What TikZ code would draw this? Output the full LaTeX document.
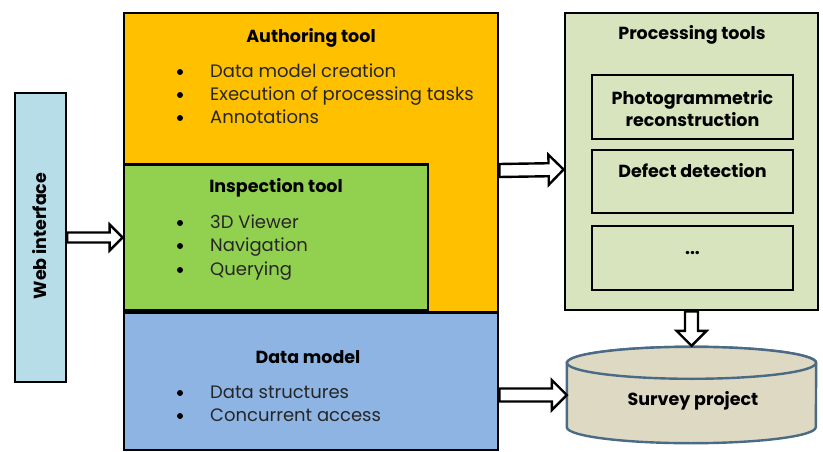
\documentclass[tikz,border=0pt]{standalone}
\usepackage{fontspec}
\setmainfont{Poppins}
\usetikzlibrary{calc}

\definecolor{authfill}{HTML}{FFC000}
\definecolor{inspfill}{HTML}{92D050}
\definecolor{datafill}{HTML}{8EB4E3}
\definecolor{webfill}{HTML}{B7DEE8}
\definecolor{procfill}{HTML}{D7E4BD}
\definecolor{cylfill}{HTML}{DDD9C3}
\definecolor{cylline}{HTML}{4A6A85}

% arrow geometry: half shaft width, half head width, head length
\def\aw{6pt}\def\ah{15pt}\def\al{15pt}

\tikzset{
  box/.style={draw=black, line width=2.8pt, inner sep=0pt, line join=miter},
  title/.style={font=\fontsize{17.5}{22}\selectfont\bfseries, inner sep=0pt, anchor=center},
  item/.style={font=\fontsize{18}{22}\selectfont, inner sep=0pt, anchor=base west, text=black!85},
  bullet/.style={circle, fill=black, inner sep=0pt, minimum size=6pt},
  hollowarrow/.style={draw=black, line width=2.4pt, fill=white, line join=miter,
    to path={let \p1=(\tikztostart), \p2=(\tikztotarget), \p3=($(\p2)!\al!(\p1)$) in
      ($(\p1)!\aw!90:(\p2)$) -- ($(\p3)!\aw!90:(\p2)$) -- ($(\p3)!\ah!90:(\p2)$)
      -- (\p2) -- ($(\p3)!\ah!-90:(\p2)$) -- ($(\p3)!\aw!-90:(\p2)$)
      -- ($(\p1)!\aw!-90:(\p2)$) -- cycle}},
  smallarrow/.style={/utils/exec={\def\aw{5pt}\def\ah{13pt}\def\al{13pt}}, hollowarrow},
  bigarrow/.style={/utils/exec={\def\aw{6.5pt}\def\ah{15pt}\def\al{15pt}}, hollowarrow},
  cyl/.style={draw=cylline, line width=2.4pt, fill=cylfill}
}

\begin{document}
\begin{tikzpicture}[x=1pt, y=-1pt]
\useasboundingbox (0,0) rectangle (823,452);

% web interface
\node[box, line width=2.4pt, fill=webfill, minimum width=51pt, minimum height=289pt] (web) at (40.5,237.5) {};
\node[title, rotate=90] (weblabel) at (40,236) {Web interface};

% authoring tool (L-shaped region behind the inspection tool)
\node[box, fill=authfill, minimum width=374pt, minimum height=299pt] (auth) at (311,162.5) {};
\node[title] (authtitle) at (311,38) {Authoring tool};
\node[bullet] (ab1) at (180,72) {};
\node[item] (a1) at (210,77.5) {Data model creation};
\node[bullet] (ab2) at (180,95) {};
\node[item] (a2) at (210,100.5) {Execution of processing tasks};
\node[bullet] (ab3) at (180,118) {};
\node[item] (a3) at (210,123.5) {Annotations};

% inspection tool
\node[box, fill=inspfill, minimum width=304pt, minimum height=146pt] (insp) at (276,237.5) {};
\node[title] (insptitle) at (276,188) {Inspection tool};
\node[bullet] (ib1) at (180,223) {};
\node[item] (i1) at (210,228.5) {3D Viewer};
\node[bullet] (ib2) at (180,246) {};
\node[item] (i2) at (210,251.5) {Navigation};
\node[bullet] (ib3) at (180,270) {};
\node[item] (i3) at (210,275.5) {Querying};

% data model
\node[box, fill=datafill, minimum width=374pt, minimum height=137pt] (data) at (311,381.5) {};
\node[title] (datatitle) at (308,357) {Data model};
\node[bullet] (db1) at (180,393) {};
\node[item] (d1) at (210,398.5) {Data structures};
\node[bullet] (db2) at (180,416) {};
\node[item] (d2) at (210,421.5) {Concurrent access};

% processing tools
\node[box, fill=procfill, minimum width=253pt, minimum height=297pt] (proc) at (691.5,161.5) {};
\node[title] (proctitle) at (692,35) {Processing tools};
\node[box, fill=procfill, minimum width=201pt, minimum height=64pt] (photo) at (692.5,107) {};
\node[title, align=center, font=\fontsize{17.5}{22}\selectfont\bfseries] (phototext) at (692.5,109) {Photogrammetric\\reconstruction};
\node[box, fill=procfill, minimum width=201pt, minimum height=63pt] (defect) at (692.5,181.5) {};
\node[title] (defecttext) at (692.5,171) {Defect detection};
\node[box, fill=procfill, minimum width=201pt, minimum height=64pt] (more) at (692.5,258) {};
\node[title] (moretext) at (692.5,253) {...};

% survey project store
\node[minimum width=249pt, minimum height=96pt, inner sep=0pt] (survey) at (691.5,395) {};
\draw[cyl] ([yshift=-16pt]survey.north west) -- ([yshift=16pt]survey.south west)
  arc[start angle=180, end angle=360, x radius=124.5pt, y radius=16pt]
  -- ([yshift=-16pt]survey.north east)
  arc[start angle=0, end angle=180, x radius=124.5pt, y radius=16pt] -- cycle;
\draw[cyl] ([yshift=-16pt]survey.north) ellipse[x radius=124.5pt, y radius=16pt];
\node[title] (surveytext) at (693,401) {Survey project};

% connectors
\draw[smallarrow] (web.east) to (insp.west);
\draw[bigarrow] ([yshift=-8pt]auth.east) to ([yshift=-8pt]proc.west);
\draw[bigarrow] (data.east |- survey.west) to (survey.west);
\draw[bigarrow] (proc.south) to ([yshift=1pt]survey.north);
\end{tikzpicture}
\end{document}
